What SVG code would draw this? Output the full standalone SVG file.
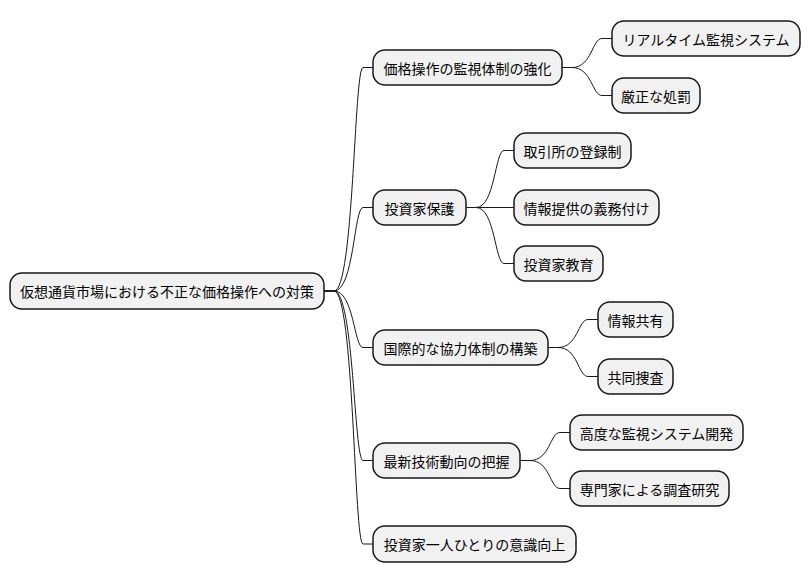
<svg xmlns="http://www.w3.org/2000/svg" width="810" height="583" viewBox="0 0 810 583">
<style>
.n rect{fill:#F1F1F1;stroke:#181818;stroke-width:1.5}
.n text{font-family:"Noto Sans CJK JP","Noto Sans",sans-serif;font-size:14px;fill:#000;dominant-baseline:central}
.c path{fill:none;stroke:#181818;stroke-width:1}
</style>
<rect width="810" height="583" fill="#fff"/>
<g class="c">
<path d="M324,291 H334 C354,291 354,67.5 363,67.5 H373"/>
<path d="M324,291 H334 C354,291 354,207.5 363,207.5 H373"/>
<path d="M324,291 H334 C354,291 354,347.5 363,347.5 H373"/>
<path d="M324,291 H334 C354,291 354,460.5 363,460.5 H373"/>
<path d="M324,291 H334 C354,291 354,544 363,544 H373"/>
<path d="M562,67.5 H572 C592,67.5 592,38.5 602,38.5 H612"/>
<path d="M562,67.5 H572 C592,67.5 592,95.5 602,95.5 H612"/>
<path d="M466,207.5 H476 C495,207.5 495,150.5 504,150.5 H514"/>
<path d="M466,207.5 H514"/>
<path d="M466,207.5 H476 C495,207.5 495,263.5 504,263.5 H514"/>
<path d="M548,347.5 H558 C578,347.5 578,319.5 588,319.5 H598"/>
<path d="M548,347.5 H558 C578,347.5 578,376.5 588,376.5 H598"/>
<path d="M520,460.5 H530 C550,460.5 550,432.5 560,432.5 H570"/>
<path d="M520,460.5 H530 C550,460.5 550,488.5 560,488.5 H570"/>
</g>
<g id="root" class="n"><rect x="10" y="273" width="314" height="36" rx="12"/><text x="167" y="291" text-anchor="middle">仮想通貨市場における不正な価格操作への対策</text></g>
<g id="n1" class="n"><rect x="373" y="50" width="189" height="35" rx="12"/><text x="467.5" y="67.5" text-anchor="middle">価格操作の監視体制の強化</text></g>
<g id="n2" class="n"><rect x="373" y="190" width="93" height="35" rx="12"/><text x="419.5" y="207.5" text-anchor="middle">投資家保護</text></g>
<g id="n3" class="n"><rect x="373" y="330" width="175" height="35" rx="12"/><text x="460.5" y="347.5" text-anchor="middle">国際的な協力体制の構築</text></g>
<g id="n4" class="n"><rect x="373" y="443" width="147" height="35" rx="12"/><text x="446.5" y="460.5" text-anchor="middle">最新技術動向の把握</text></g>
<g id="n5" class="n"><rect x="373" y="526" width="203" height="36" rx="12"/><text x="474.5" y="544" text-anchor="middle">投資家一人ひとりの意識向上</text></g>
<g id="n11" class="n"><rect x="612" y="21" width="188" height="35" rx="12"/><text x="706" y="38.5" text-anchor="middle">リアルタイム監視システム</text></g>
<g id="n12" class="n"><rect x="612" y="78" width="88" height="35" rx="12"/><text x="656" y="95.5" text-anchor="middle">厳正な処罰</text></g>
<g id="n21" class="n"><rect x="514" y="133" width="117" height="35" rx="12"/><text x="572.5" y="150.5" text-anchor="middle">取引所の登録制</text></g>
<g id="n22" class="n"><rect x="514" y="190" width="145" height="35" rx="12"/><text x="586.5" y="207.5" text-anchor="middle">情報提供の義務付け</text></g>
<g id="n23" class="n"><rect x="514" y="246" width="89" height="35" rx="12"/><text x="558.5" y="263.5" text-anchor="middle">投資家教育</text></g>
<g id="n31" class="n"><rect x="598" y="302" width="75" height="35" rx="12"/><text x="635.5" y="319.5" text-anchor="middle">情報共有</text></g>
<g id="n32" class="n"><rect x="598" y="359" width="75" height="35" rx="12"/><text x="635.5" y="376.5" text-anchor="middle">共同捜査</text></g>
<g id="n41" class="n"><rect x="570" y="415" width="173" height="35" rx="12"/><text x="656.5" y="432.5" text-anchor="middle">高度な監視システム開発</text></g>
<g id="n42" class="n"><rect x="570" y="471" width="159" height="35" rx="12"/><text x="649.5" y="488.5" text-anchor="middle">専門家による調査研究</text></g>
</svg>
